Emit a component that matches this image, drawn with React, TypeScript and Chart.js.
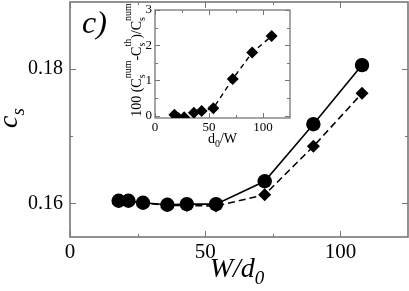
import React, { useEffect, useRef } from 'react';
import { Chart, registerables } from 'chart.js';
Chart.register(...registerables);

// ---- data ----
const widthRatio = [18, 21.6, 27, 36, 43.2, 54, 72, 90, 108];
const csNumerical = [0.1604, 0.1604, 0.1601, 0.1598, 0.1599, 0.1599, 0.1633, 0.1718, 0.1806];
const csTheory = [0.1603, 0.1604, 0.1601, 0.1597, 0.1597, 0.1596, 0.1613, 0.1685, 0.1764];
const relDiff = [0.02, -0.07, -0.05, 0.08, 0.13, 0.21, 1.04, 1.79, 2.26];

const mainXMajor = [0, 50, 100];
const mainXMinor = [25, 75];
const mainYMajor = [0.16, 0.18];
const mainYMinor = [0.17];
const insetXMajor = [0, 50, 100];
const insetXMinor = [25, 75];
const insetYMajor = [0, 1, 2, 3];
const insetYMinor = [0.5, 1.5, 2.5];

const SERIF = '"Liberation Serif", "DejaVu Serif", "Times New Roman", serif';

type Seg = { t?: string; sub?: string; sup?: string; size: number; subDy?: number; supDy?: number };

function font(size: number, italic: boolean) {
  return `${italic ? 'italic ' : ''}${size}px ${SERIF}`;
}

function segWidth(ctx: CanvasRenderingContext2D, s: Seg, italic: boolean) {
  ctx.font = font(s.size, italic);
  if (s.t !== undefined) return ctx.measureText(s.t).width;
  const a = s.sub ? ctx.measureText(s.sub).width : 0;
  const b = s.sup ? ctx.measureText(s.sup).width : 0;
  return Math.max(a, b);
}

function drawRich(ctx: CanvasRenderingContext2D, segs: Seg[], cx: number, cy: number, rotate: boolean, italic: boolean) {
  ctx.save();
  ctx.translate(cx, cy);
  if (rotate) ctx.rotate(-Math.PI / 2);
  const total = segs.reduce((acc, s) => acc + segWidth(ctx, s, italic), 0);
  let x = -total / 2;
  ctx.fillStyle = '#000';
  ctx.textBaseline = 'alphabetic';
  ctx.textAlign = 'left';
  for (const s of segs) {
    const w = segWidth(ctx, s, italic);
    ctx.font = font(s.size, italic);
    if (s.t !== undefined) ctx.fillText(s.t, x, 0);
    if (s.sub) ctx.fillText(s.sub, x, s.subDy ?? 4);
    if (s.sup) ctx.fillText(s.sup, x, s.supDy ?? -8);
    x += w;
  }
  ctx.restore();
}

const framePlugin = {
  id: 'frame',
  beforeDatasetsDraw(chart: any, _args: any, opts: any) {
    const { ctx, chartArea: a, scales } = chart;
    const xs = scales.x;
    const ys = scales.y;
    ctx.save();
    ctx.strokeStyle = opts.color;
    ctx.lineWidth = opts.width;
    ctx.strokeRect(a.left, a.top, a.right - a.left, a.bottom - a.top);
    ctx.lineWidth = opts.tickWidth;
    const xt = (vals: number[], len: number) => {
      for (const v of vals) {
        const p = Math.round(xs.getPixelForValue(v)) + 0.5;
        ctx.beginPath();
        ctx.moveTo(p, a.bottom);
        ctx.lineTo(p, a.bottom - len);
        ctx.moveTo(p, a.top);
        ctx.lineTo(p, a.top + len);
        ctx.stroke();
      }
    };
    const yt = (vals: number[], len: number) => {
      for (const v of vals) {
        const p = Math.round(ys.getPixelForValue(v)) + 0.5;
        ctx.beginPath();
        ctx.moveTo(a.left, p);
        ctx.lineTo(a.left + len, p);
        ctx.moveTo(a.right, p);
        ctx.lineTo(a.right - len, p);
        ctx.stroke();
      }
    };
    xt(opts.xMajor, opts.major);
    xt(opts.xMinor, opts.minor);
    yt(opts.yMajor, opts.major);
    yt(opts.yMinor, opts.minor);
    ctx.restore();
  },
};

const mainTitles = {
  id: 'mainTitles',
  afterDraw(chart: any) {
    const { ctx, chartArea: a } = chart;
    drawRich(ctx, [{ t: 'W/d', size: 28 }, { sub: '0', size: 19, subDy: 7 }], (a.left + a.right) / 2 - 2, 277, false, true);
    drawRich(ctx, [{ t: 'c', size: 28 }, { sub: 's', size: 19, subDy: 7 }], 17, 118, true, true);
    ctx.save();
    ctx.font = font(32, true);
    ctx.fillStyle = '#000';
    ctx.textAlign = 'left';
    ctx.textBaseline = 'alphabetic';
    ctx.fillText('c)', 82, 33);
    ctx.restore();
  },
};

const insetTitles = {
  id: 'insetTitles',
  afterDraw(chart: any) {
    const { ctx, chartArea: a } = chart;
    drawRich(ctx, [{ t: 'd', size: 14 }, { sub: '0', size: 10, subDy: 4 }, { t: '/W', size: 14 }], (a.left + a.right) / 2, 143, false, false);
    drawRich(
      ctx,
      [
        { t: '100 (C', size: 14 },
        { sub: 's', sup: 'num', size: 10, subDy: 4, supDy: -10 },
        { t: '-C', size: 14 },
        { sub: 's', sup: 'th', size: 10, subDy: 4, supDy: -10 },
        { t: ')/C', size: 14 },
        { sub: 's', sup: 'num', size: 10, subDy: 4, supDy: -10 },
      ],
      30.5,
      60,
      true,
      false
    );
  },
};

const fixX = (h: number) => (s: any) => {
  s.height = h;
  s.paddingLeft = 0;
  s.paddingRight = 0;
  s.paddingTop = 0;
  s.paddingBottom = 0;
};
const fixY = (w: number) => (s: any) => {
  s.width = w;
  s.paddingLeft = 0;
  s.paddingRight = 0;
  s.paddingTop = 0;
  s.paddingBottom = 0;
};

function MainChart() {
  const ref = useRef<HTMLCanvasElement>(null);
  useEffect(() => {
    const ctx = ref.current!.getContext('2d')!;
    const chart = new Chart(ctx, {
      type: 'line',
      data: {
        datasets: [
          {
            data: widthRatio.map((x, i) => ({ x, y: csNumerical[i] })),
            borderColor: '#000',
            borderWidth: 1.6,
            pointStyle: 'circle',
            pointRadius: 7.2,
            pointBackgroundColor: '#000',
            pointBorderWidth: 0,
            tension: 0,
          },
          {
            data: widthRatio.map((x, i) => ({ x, y: csTheory[i] })),
            borderColor: '#000',
            borderWidth: 1.6,
            borderDash: [7, 4],
            pointStyle: 'rectRot',
            pointRadius: 6.5,
            pointBackgroundColor: '#000',
            pointBorderWidth: 0,
            tension: 0,
          },
        ],
      },
      options: {
        responsive: false,
        animation: false,
        devicePixelRatio: 1,
        events: [],
        layout: { autoPadding: false, padding: { left: 0, right: 1, top: 2, bottom: 0 } },
        plugins: {
          legend: { display: false },
          tooltip: { enabled: false },
          frame: {
            color: '#777',
            width: 1.6,
            tickWidth: 1,
            major: 6,
            minor: 3,
            xMajor: mainXMajor,
            xMinor: mainXMinor,
            yMajor: mainYMajor,
            yMinor: mainYMinor,
          },
        } as any,
        scales: {
          x: {
            type: 'linear',
            min: 0,
            max: 125,
            grid: { display: false, drawTicks: false },
            border: { display: false },
            afterBuildTicks: (s: any) => {
              s.ticks = mainXMajor.map((v) => ({ value: v }));
            },
            afterFit: fixX(54),
            ticks: {
              color: '#000',
              font: { family: SERIF, size: 21 },
              padding: 3,
              maxRotation: 0,
              autoSkip: false,
              callback: (v: any) => String(v),
            },
          },
          y: {
            type: 'linear',
            min: 0.155,
            max: 0.19,
            grid: { display: false, drawTicks: false },
            border: { display: false },
            afterBuildTicks: (s: any) => {
              s.ticks = mainYMajor.map((v) => ({ value: v }));
            },
            afterFit: fixY(70),
            ticks: {
              color: '#000',
              font: { family: SERIF, size: 20 },
              padding: 7,
              autoSkip: false,
              callback: (v: any) => Number(v).toFixed(2),
            },
          },
        },
      },
      plugins: [framePlugin, mainTitles],
    });
    return () => chart.destroy();
  }, []);
  return <canvas ref={ref} width={409} height={291} style={{ position: 'absolute', left: 0, top: 0 }} />;
}

function InsetChart() {
  const ref = useRef<HTMLCanvasElement>(null);
  useEffect(() => {
    const ctx = ref.current!.getContext('2d')!;
    const chart = new Chart(ctx, {
      type: 'line',
      data: {
        datasets: [
          {
            data: widthRatio.map((x, i) => ({ x, y: relDiff[i] })),
            borderColor: '#000',
            borderWidth: 1.4,
            borderDash: [5, 4],
            pointStyle: 'rectRot',
            pointRadius: 6,
            pointBackgroundColor: '#000',
            pointBorderWidth: 0,
            tension: 0,
          },
        ],
      },
      options: {
        responsive: false,
        animation: false,
        devicePixelRatio: 1,
        events: [],
        layout: { autoPadding: false, padding: { left: 0, right: 10, top: 10, bottom: 0 } },
        plugins: {
          legend: { display: false },
          tooltip: { enabled: false },
          frame: {
            color: '#777',
            width: 1.3,
            tickWidth: 1,
            major: 5,
            minor: 3,
            xMajor: insetXMajor,
            xMinor: insetXMinor,
            yMajor: insetYMajor,
            yMinor: insetYMinor,
          },
        } as any,
        scales: {
          x: {
            type: 'linear',
            min: 0,
            max: 125,
            grid: { display: false, drawTicks: false },
            border: { display: false },
            afterBuildTicks: (s: any) => {
              s.ticks = insetXMajor.map((v) => ({ value: v }));
            },
            afterFit: fixX(32),
            ticks: {
              color: '#000',
              font: { family: SERIF, size: 13 },
              padding: 2,
              maxRotation: 0,
              autoSkip: false,
              callback: (v: any) => String(v),
            },
          },
          y: {
            type: 'linear',
            min: -0.07,
            max: 3,
            grid: { display: false, drawTicks: false },
            border: { display: false },
            afterBuildTicks: (s: any) => {
              s.ticks = insetYMajor.map((v) => ({ value: v }));
            },
            afterFit: fixY(45),
            ticks: {
              color: '#000',
              font: { family: SERIF, size: 13 },
              padding: 3,
              autoSkip: false,
              callback: (v: any) => String(v),
            },
          },
        },
      },
      plugins: [framePlugin, insetTitles],
    });
    return () => chart.destroy();
  }, []);
  return <canvas ref={ref} width={190} height={150} style={{ position: 'absolute', left: 110, top: 0 }} />;
}

export default function App() {
  return (
    <div style={{ position: 'fixed', left: 0, top: 0, width: 409, height: 291, background: '#fff', overflow: 'hidden' }}>
      <MainChart />
      <InsetChart />
    </div>
  );
}
